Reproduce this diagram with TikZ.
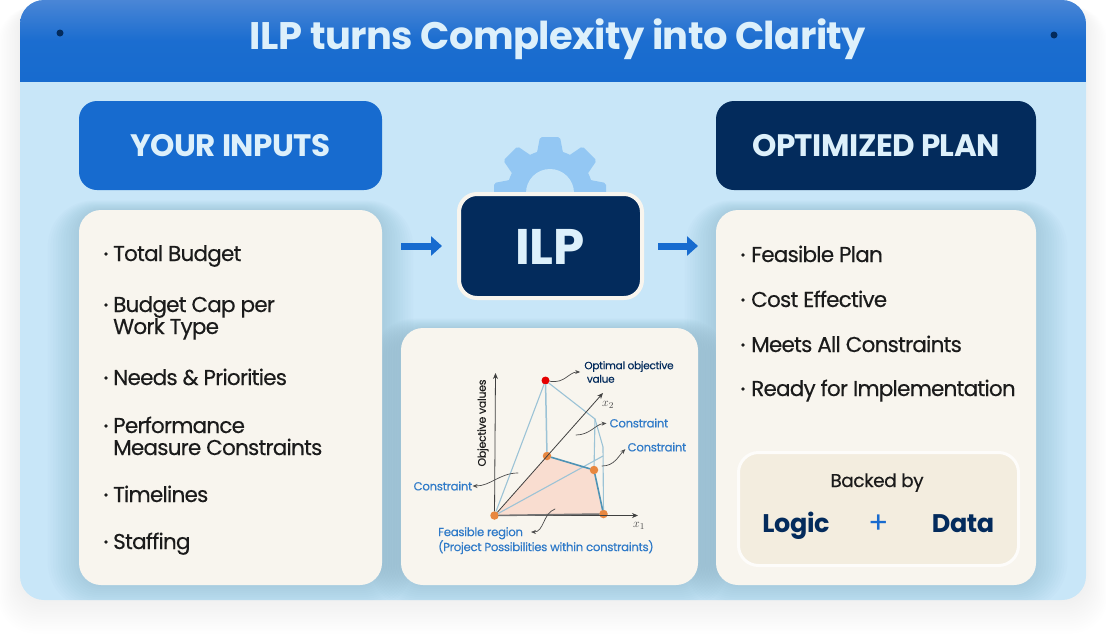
\documentclass[tikz,border=0pt]{standalone}
\usepackage{fontspec}
\setmainfont{Poppins}
\newfontfamily\listfont[LetterSpace=-3.6,FakeBold=0.35]{Poppins}
\newfontfamily\notefont[LetterSpace=-2.5,FakeBold=0.3]{Poppins}
\newfontfamily\headfont[LetterSpace=-1.5]{Poppins}
\usetikzlibrary{arrows.meta}
\definecolor{panelblue}{HTML}{C8E6F8}
\definecolor{headblue}{HTML}{176BCF}
\definecolor{headtop}{HTML}{4A86D6}
\definecolor{navy}{HTML}{032B5C}
\definecolor{paleblue}{HTML}{DDF0FB}
\definecolor{cream}{HTML}{F8F5EE}
\definecolor{sand}{HTML}{F3EDDF}
\definecolor{gearblue}{HTML}{93C7F3}
\definecolor{ink}{HTML}{1B1B1B}
\definecolor{chartblue}{HTML}{2F7AC8}
\definecolor{peach}{HTML}{F9DDD0}
\definecolor{edgeblue}{HTML}{9CC3D6}
\definecolor{edgedark}{HTML}{4E93B5}
\definecolor{dotorange}{HTML}{E8873F}
\definecolor{shadowtone}{HTML}{4F7F9C}
\newcommand{\softshadow}[5]{\foreach \g in {1,...,12}{\fill[shadowtone,opacity=0.019,rounded corners=#5+\g*2] (#1-\g*2.6,#2-\g*0.8) rectangle (#3+\g*2.6,#4+\g*2);}}
\tikzset{
card/.style={fill=cream,rounded corners=22,anchor=north west,inner sep=0,outer sep=0},
headbox/.style={rounded corners=18,anchor=north west,inner sep=0,outer sep=0,minimum height=89,font=\headfont\bfseries\fontsize{31}{33}\selectfont,text=paleblue},
listitem/.style={anchor=base west,align=left,inner sep=0,text=ink,font=\listfont\fontsize{21.5}{22}\selectfont},
flowarrow/.style={-{Triangle[length=11,width=19]},line width=7,line cap=butt,draw=headblue},
axisline/.style={-{Stealth[length=6,width=5]},line width=0.8,draw=black!75},
hullline/.style={line width=1.1,draw=edgeblue},
feasline/.style={line width=1.6,draw=edgedark},
corner/.style={circle,fill=dotorange,minimum size=8.5,inner sep=0},
chartnote/.style={text=chartblue,inner sep=0,font=\notefont\fontsize{11.7}{15}\selectfont},
callout/.style={-{Stealth[length=5,width=4]},line width=0.7,draw=black!70},
}
\begin{document}
\begin{tikzpicture}[x=1pt,y=-1pt,line cap=round,line join=round]
\useasboundingbox (0,0) rectangle (1106,640);
% outer glow
\foreach \g in {1,...,14}
  \fill[black,opacity=0.005,rounded corners=24+\g] (20-\g*1.6,6) rectangle (1086+\g*1.6,600+\g*2.4);
\node[fill=panelblue,rounded corners=24,anchor=north west,minimum width=1066,minimum height=600,inner sep=0,outer sep=0] (panel) at (20,0) {};
\begin{scope}
\clip[rounded corners=24] (20,0) rectangle (1086,600);
\shade[top color=headtop,bottom color=headblue,middle color=headblue!92!headtop] (20,0) rectangle (1086,81);
\softshadow{79}{210}{382}{585}{22}
\softshadow{401}{328}{698}{585}{22}
\softshadow{716}{210}{1036}{585}{22}
\end{scope}
\node[circle,fill=navy,minimum size=7,inner sep=0] (pinl) at (60,33) {};
\node[circle,fill=navy,minimum size=7,inner sep=0] (pinr) at (1054,35) {};
\node[text=paleblue,inner sep=0,anchor=base,font=\headfont\bfseries\fontsize{38.4}{40}\selectfont] (title) at (558,49) {ILP turns Complexity into Clarity};

% headers
\node[headbox,fill=headblue,minimum width=303] (inputhead) at (79,101) {YOUR INPUTS};
\node[headbox,fill=navy,minimum width=320] (planhead) at (716,101) {OPTIMIZED PLAN};

% cards
\node[card,minimum width=303,minimum height=375] (inputcard) at (79,210) {};
\node[card,minimum width=297,minimum height=257] (chartcard) at (401,328) {};
\node[card,minimum width=320,minimum height=375] (plancard) at (716,210) {};

% gear behind the ILP box
\foreach \a in {0,45,...,315}
  \fill[gearblue,rotate around={\a:(550,193)},rounded corners=2] (536,158) -- (540,137) -- (560,137) -- (564,158) -- cycle;
\fill[gearblue] (550,193) circle (43);
\fill[panelblue] (550,193) circle (24);
\node[fill=navy,draw=cream,line width=4,rounded corners=18,minimum width=183,minimum height=104,inner sep=0] (ilp) at (550.5,246) {};
\node[inner sep=0,anchor=base,text=paleblue,font=\headfont\bfseries\fontsize{50}{52}\selectfont] (ilptext) at (550,264) {ILP};

% flow arrows
\draw[flowarrow,shorten <=19,shorten >=15] (inputcard.east |- ilp) -- (ilp.west);
\draw[flowarrow,shorten <=14,shorten >=18] (ilp.east) -- (plancard.west |- ilp);

% input list
\foreach \y in {254,305,378,426,495,542}
  \fill[ink] (106,\y) circle (1.9);
\node[listitem] (totalbudget) at (113,261) {Total Budget};
\node[listitem] (budgetcap) at (113,334) {Budget Cap per\\Work Type};
\node[listitem] (needs) at (113,385) {Needs \& Priorities};
\node[listitem] (performance) at (113,455) {Performance\\Measure Constraints};
\node[listitem] (timelines) at (113,502) {Timelines};
\node[listitem] (staffing) at (113,549) {Staffing};

% plan list
\foreach \y in {255,300,345,389}
  \fill[ink] (743,\y) circle (1.9);
\node[listitem] (feasible) at (751,262) {Feasible Plan};
\node[listitem] (costeff) at (751,307) {Cost Effective};
\node[listitem] (meets) at (751,352) {Meets All Constraints};
\node[listitem] (ready) at (751,396) {Ready for Implementation};

% backed by box
\node[fill=sand,draw=white!70!cream,line width=3,rounded corners=20,anchor=north west,minimum width=280,minimum height=113,inner sep=0] (backed) at (737,451) {};
\node[text=ink,inner sep=0,anchor=base,font=\notefont\fontsize{18.5}{20}\selectfont] (backedby) at (877,487) {Backed by};
\node[text=navy,inner sep=0,anchor=base,font=\headfont\bfseries\fontsize{25.5}{27}\selectfont] (logic) at (796,532) {Logic};
\node[text=headblue,inner sep=0,font=\fontsize{30}{30}\selectfont] (plus) at (879,524) {+};
\node[text=navy,inner sep=0,anchor=base,font=\headfont\bfseries\fontsize{25.5}{27}\selectfont] (data) at (963,532) {Data};

% chart
\coordinate (xend) at (638,515.5);
\coordinate (yend) at (495.5,373);
\coordinate (xtwoend) at (603,393);
\coordinate (hulla) at (595,419);
\coordinate (hullb) at (603,447);
\coordinate (hullc) at (603,456);
\fill[peach] (494.5,515.5) -- (547,456) -- (594,470) -- (604,514) -- cycle;
\node[circle,fill=red!90!black,minimum size=8,inner sep=0] (topdot) at (545.5,380.5) {};
\node[corner] (ptb) at (547,456) {};
\node[corner] (ptc) at (594,470) {};
\node[corner] (ptd) at (603.5,514) {};
\node[corner] (pta) at (494.5,515.5) {};
\draw[hullline] (pta) -- (topdot);
\draw[hullline,line width=1.5] (topdot) -- (ptb);
\draw[hullline] (topdot) -- (hulla) -- (ptc);
\draw[hullline] (hulla) -- (hullb) -- (ptd);
\draw[hullline] (pta) -- (hullc);
\draw[feasline] (ptb) -- (ptc) -- (ptd);
\draw[axisline] (pta) -- (yend);
\draw[axisline] (pta) -- (xend);
\draw[axisline] (pta) -- (xtwoend);
\draw[line width=1.6,draw=black!55] (pta) -- (ptd);
\node[inner sep=0,rotate=90,text=ink,font=\notefont\fontsize{11}{12}\selectfont] (yaxislabel) at (483,423) {Objective values};
\node[inner sep=0,text=ink!80,font=\fontsize{13}{14}\selectfont] (xtwolabel) at (608,405) {$x_2$};
\node[inner sep=0,text=ink!80,font=\fontsize{13}{14}\selectfont] (xonelabel) at (639,526) {$x_1$};
\node[inner sep=0,align=left,text=navy,font=\notefont\fontsize{10.5}{13.5}\selectfont] (optlabel) at (629,372) {Optimal objective\\\ value};
\node[chartnote] (consta) at (639,423) {Constraint};
\node[chartnote] (constb) at (657,447) {Constraint};
\node[chartnote] (constc) at (443,486) {Constraint};
\node[chartnote,anchor=north west,align=left] (feaslabel) at (438,527) {Feasible region\\(Project Possibilities within constraints)};
\coordinate (notea) at (576,435);
\coordinate (noteb) at (602,466);
\coordinate (notec) at (518,473);
\coordinate (noted) at (555,509);
\coordinate (notee) at (531,532);
\draw[callout,shorten >=4] (topdot) to[out=-10,in=180,looseness=1.1] (optlabel.west);
\draw[callout,shorten >=3] (notea) to[out=0,in=185] (consta.west);
\draw[callout,shorten >=3] (noteb) to[out=0,in=225] (constb.west);
\draw[callout] (notec) to[out=180,in=0] (constc.east);
\draw[callout] (noted) to[out=200,in=0] (notee);
\end{tikzpicture}
\end{document}
